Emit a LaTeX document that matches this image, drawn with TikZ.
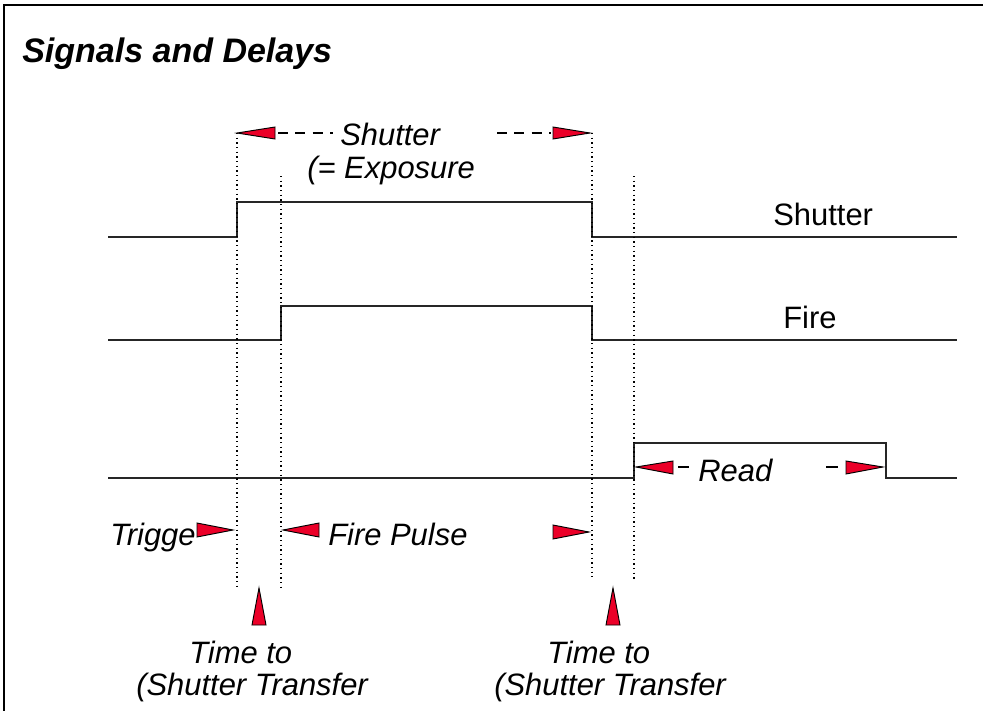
\documentclass[tikz,border=0pt]{standalone}
\usepackage{fontspec}
\setmainfont{Liberation Sans}
\definecolor{tred}{RGB}{235,0,40}
\begin{document}
\begin{tikzpicture}[x=0.75pt,y=-0.75pt,
 sig/.style={line width=1.1pt,black!85},
 vdot/.style={line width=1.5pt,dash pattern=on 1pt off 2.5pt},
 tri/.style={fill=tred,draw=black,line width=0.7pt,line join=miter},
 lab/.style={font=\fontsize{23.2}{27}\selectfont\itshape,inner sep=0pt,anchor=base west},
 rlab/.style={font=\fontsize{23.2}{27}\selectfont,inner sep=0pt,anchor=base west},
 dsh/.style={line width=0.8pt,dash pattern=on 7.5pt off 5.5pt}]
\useasboundingbox (0,0) rectangle (983,711);
\fill[white] (0,0) rectangle (983,711);
\draw[line width=1.5pt] (4,711) -- (4,5) -- (983,5);
\node[inner sep=0pt,anchor=base west,font=\fontsize{25.5}{30}\selectfont\bfseries\itshape] (title) at (22,62) {Signals and Delays};
% signals
\draw[sig] (108,237) -- (237,237) -- (237,202) -- (592,202) -- (592,237) -- (957,237);
\draw[sig] (108,340) -- (281,340) -- (281,306) -- (592,306) -- (592,340) -- (957,340);
\draw[sig] (108,478) -- (634,478) -- (634,443) -- (886,443) -- (886,478) -- (957,478);
% dotted time markers
\draw[vdot] (237,133) -- (237,587);
\draw[vdot] (281,176) -- (281,590);
\draw[vdot] (592,133) -- (592,577);
\draw[vdot] (634,176) -- (634,580);
% top shutter span
\draw[tri] (237,133) -- (275,127) -- (275,139) -- cycle;
\draw[dsh] (278,133) -- (333,133);
\draw[dsh] (497,133) -- (551,133);
\draw[tri] (590,133) -- (553,127) -- (553,139) -- cycle;
\node[lab] (shutspan) at (340,145) {Shutter};
\node[lab] (expo) at (307,178) {(= Exposure};
% right labels
\node[rlab] (shutlab) at (773,225) {Shutter};
\node[rlab] (firelab) at (783,328) {Fire};
% read span
\draw[tri] (636,467) -- (673,461) -- (673,474) -- cycle;
\draw[line width=0.8pt] (678,467) -- (689,467);
\draw[line width=0.8pt] (826,467) -- (838,467);
\draw[tri] (883,467) -- (846,461) -- (846,474) -- cycle;
\node[lab] (readlab) at (698,481) {Read};
% trigger / fire pulse
\draw[tri] (233,530) -- (197,523) -- (197,537) -- cycle;
\draw[tri] (283,530) -- (319,523) -- (319,537) -- cycle;
\draw[tri] (589,532) -- (553,525) -- (553,539) -- cycle;
\node[lab] (trig) at (110,545) {Trigge};
\node[lab] (fpulse) at (328,545) {Fire Pulse};
% bottom up arrows
\draw[tri] (259,588) -- (252,625) -- (266,625) -- cycle;
\draw[tri] (613,588) -- (606,625) -- (620,625) -- cycle;
\node[lab] (tta) at (189,663) {Time to};
\node[lab] (stra) at (136,695) {(Shutter Transfer};
\node[lab] (ttb) at (547,663) {Time to};
\node[lab] (strb) at (494,695) {(Shutter Transfer};
\end{tikzpicture}
\end{document}
